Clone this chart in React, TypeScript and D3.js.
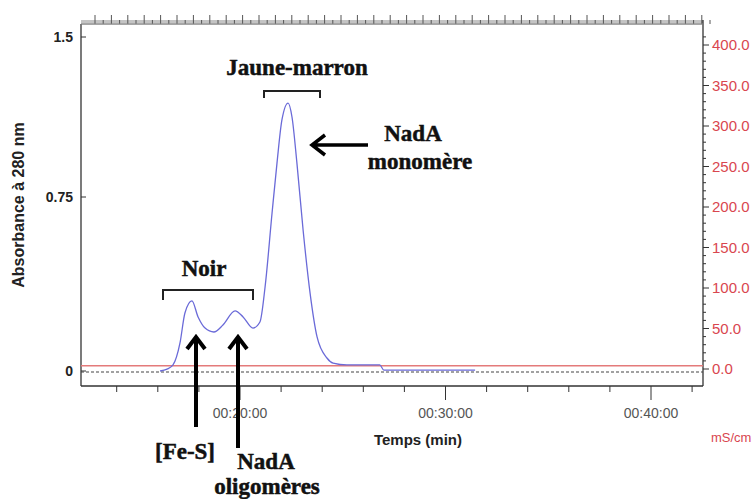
import React from "react";
import * as d3 from "d3";

// ---- Data ----
const timeMin = [16.11, 16.45, 16.74, 17.08, 17.32, 17.66, 17.96, 18.3, 18.73, 19.17, 19.76, 20.15, 20.63, 20.97, 21.22, 21.56, 21.8, 22.04, 22.34, 22.53, 22.77, 23.07, 23.41, 23.75, 24.23, 24.53, 25.2, 26.8, 27.0, 31.44];
const absorbance = [0.0, 0.008, 0.026, 0.121, 0.25, 0.302, 0.233, 0.185, 0.168, 0.198, 0.259, 0.233, 0.185, 0.211, 0.362, 0.681, 0.909, 1.111, 1.19, 1.125, 0.909, 0.608, 0.336, 0.147, 0.056, 0.034, 0.026, 0.026, 0.004, 0.004];

const condTime = [12.26, 42.53];
const conductivity = [4.0, 4.0];

const leftTicks = [0, 0.75, 1.5];
const leftTickLabels = ["0", "0.75", "1.5"];
const rightTicks = [0, 50, 100, 150, 200, 250, 300, 350, 400];
const rightTickLabels = ["0.0", "50.0", "100.0", "150.0", "200.0", "250.0", "300.0", "350.0", "400.0"];
const majorTimeTicks = [20, 30, 40];
const majorTimeLabels = ["00:20:00", "00:30:00", "00:40:00"];
const minorTimeTicks = [14, 16, 18, 22, 24, 26, 28, 32, 34, 36, 38, 42];

const W = 752;
const H = 499;
const L = 81, R = 703, T = 24, B = 386;

export default function App() {
  const x = d3.scaleLinear().domain([20, 40]).range([240, 651]);
  const xMin = x.invert(L), xMax = x.invert(R);
  const y = d3.scaleLinear().domain([0, 0.75, 1.5]).range([371, 197, 37]);
  const y2 = d3.scaleLinear().domain([0, 400]).range([369, 45]);

  const absData = timeMin.map((t, i) => [t, absorbance[i]] as [number, number]);
  const condData = condTime.map((t, i) => [t, conductivity[i]] as [number, number]);

  const absLine = d3.line<[number, number]>().x(d => x(d[0])).y(d => y(d[1])).curve(d3.curveMonotoneX);
  const condLine = d3.line<[number, number]>().x(d => x(d[0])).y(d => y2(d[1]));

  const rightMinor = d3.range(0, 411, 10).filter(v => v % 50 !== 0);
  const topTicks = d3.range(0, 38).map(i => 95 + i * 16.4).filter(v => v <= R);

  const serif = "'Liberation Serif', 'Times New Roman', serif";
  const sans = "'Liberation Sans', Arial, sans-serif";
  const red = "#d9464f";

  const upArrow = (cx: number, yBottom: number, yTip: number) =>
    `M${cx},${yBottom} L${cx},${yTip + 3} M${cx - 9},${yTip + 12} L${cx},${yTip} L${cx + 9},${yTip + 12}`;

  const ann = { fontFamily: serif, fontWeight: "bold" as const, fontSize: 23, fill: "#111", stroke: "#111", strokeWidth: 0.5, textAnchor: "middle" as const };

  return (
    <svg width={W} height={H} style={{ position: "absolute", left: 0, top: 0, background: "#fff" }}>
      {/* top fraction axis band */}
      <rect x={L} y={20} width={R - L} height={5} fill="#c4c4c4" />
      {topTicks.map((tx, i) => (
        <g key={i}>
          <line x1={tx} x2={tx} y1={24} y2={15} stroke="#555" strokeWidth={1} />
          <line x1={tx + 8.2} x2={tx + 8.2} y1={24} y2={20} stroke="#555" strokeWidth={1} />
        </g>
      ))}

      {/* frame */}
      <line x1={L} x2={L} y1={T} y2={B} stroke="#333" strokeWidth={1.3} />
      <line x1={L} x2={R} y1={B} y2={B} stroke="#333" strokeWidth={1.3} />
      <line x1={R} x2={R} y1={T - 4} y2={B} stroke="#333" strokeWidth={1.3} />
      <line x1={L} x2={R} y1={T} y2={T} stroke="#888" strokeWidth={1} />

      {/* left axis */}
      {leftTicks.map((v, i) => (
        <g key={i}>
          <line x1={L} x2={L + 5} y1={y(v)} y2={y(v)} stroke="#333" />
          <text x={73} y={y(v) + 5} textAnchor="end" fontFamily={sans} fontWeight="bold" fontSize={14} fill="#222">
            {leftTickLabels[i]}
          </text>
        </g>
      ))}
      <text transform={`translate(24,205) rotate(-90)`} textAnchor="middle" fontFamily={sans} fontWeight="bold" fontSize={16} fill="#222">
        Absorbance à 280 nm
      </text>

      {/* right axis */}
      {rightMinor.map((v, i) => (
        <line key={i} x1={R} x2={R + 3} y1={y2(v)} y2={y2(v)} stroke="#333" />
      ))}
      {rightTicks.map((v, i) => (
        <g key={i}>
          <line x1={R} x2={R + 6} y1={y2(v)} y2={y2(v)} stroke="#333" />
          <text x={712} y={y2(v) + 5} fontFamily={sans} fontSize={15} fill={red}>
            {rightTickLabels[i]}
          </text>
        </g>
      ))}
      <text x={711} y={442} fontFamily={sans} fontSize={13} fill={red}>mS/cm</text>

      {/* bottom axis */}
      {minorTimeTicks.filter(t => t >= xMin && t <= xMax).map((t, i) => (
        <line key={i} x1={x(t)} x2={x(t)} y1={B} y2={B + 6} stroke="#333" />
      ))}
      {majorTimeTicks.map((t, i) => (
        <g key={i}>
          <line x1={x(t)} x2={x(t)} y1={B} y2={B + 14} stroke="#333" />
          <text x={x(t)} y={418} textAnchor="middle" fontFamily={sans} fontSize={14} fill="#555">
            {majorTimeLabels[i]}
          </text>
        </g>
      ))}
      <text x={418} y={445} textAnchor="middle" fontFamily={sans} fontWeight="bold" fontSize={15} fill="#222">
        Temps (min)
      </text>

      {/* baseline + conductivity */}
      <line x1={L} x2={R} y1={y(0) + 1} y2={y(0) + 1} stroke="#444" strokeWidth={1.2} strokeDasharray="3,2" />
      <path d={condLine(condData) || ""} fill="none" stroke="#e47a7a" strokeWidth={1.5} />

      {/* absorbance curve */}
      <path d={absLine(absData) || ""} fill="none" stroke="#6a6ad8" strokeWidth={1.3} />

      {/* annotations */}
      <text x={297} y={75} {...ann}>Jaune-marron</text>
      <path d="M264,98 L264,91 L320,91 L320,98" fill="none" stroke="#222" strokeWidth={2} />
      <path d="M368,145 L314,145 M325,135 L312,145 L325,155" fill="none" stroke="#000" strokeWidth={3.5} />
      <text x={413} y={141} {...ann}>NadA</text>
      <text x={420} y={169} {...ann}>monomère</text>

      <text x={204} y={276} {...ann}>Noir</text>
      <path d="M163,300 L163,290 L253,290 L253,300" fill="none" stroke="#222" strokeWidth={2} />

      <path d={upArrow(196, 427, 337)} fill="none" stroke="#000" strokeWidth={4} />
      <path d={upArrow(238, 448, 337)} fill="none" stroke="#000" strokeWidth={4} />
      <text x={185} y={459} {...ann}>[Fe-S]</text>
      <text x={266} y={469} {...ann}>NadA</text>
      <text x={267} y={494} {...ann}>oligomères</text>
    </svg>
  );
}
